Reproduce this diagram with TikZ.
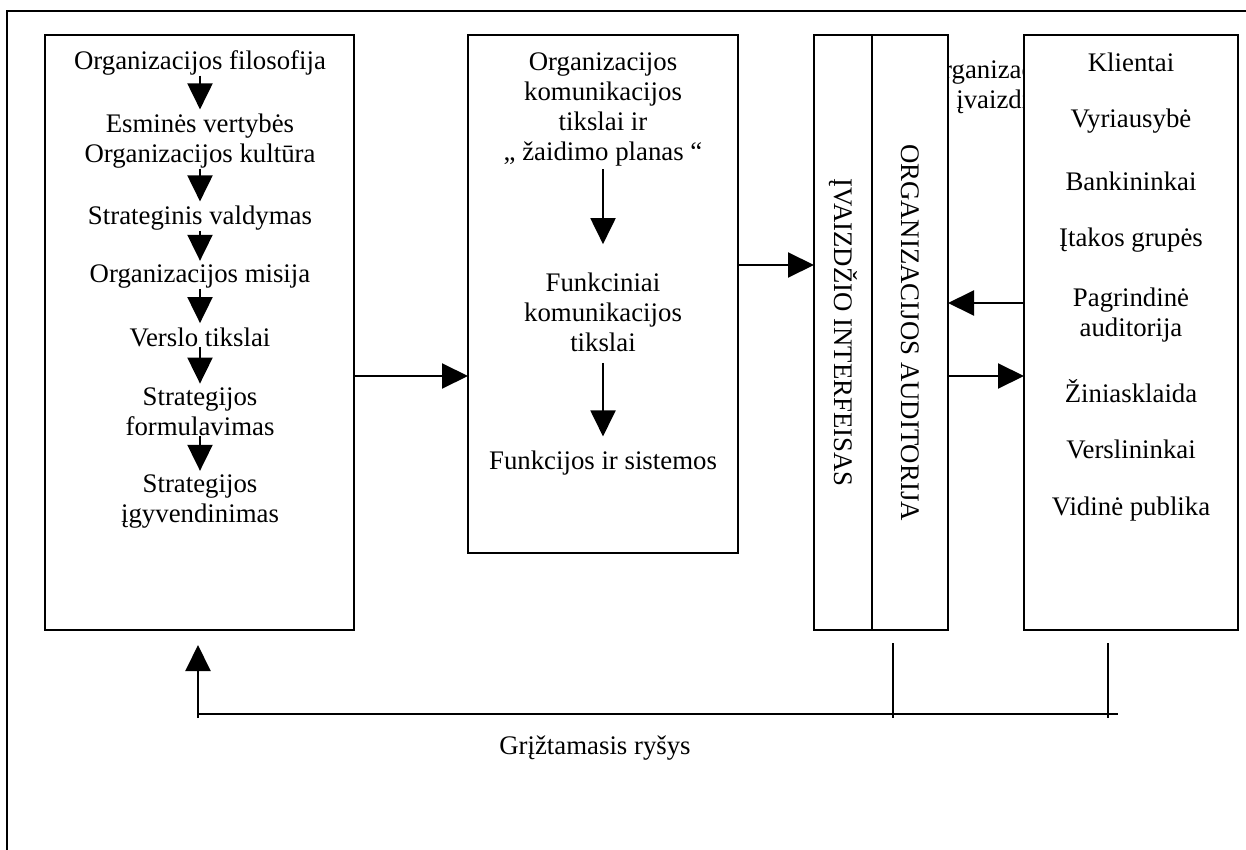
\documentclass[tikz,border=0pt]{standalone}
\usepackage{fontspec}
\setmainfont{Liberation Serif}
\usetikzlibrary{arrows.meta,positioning}

\begin{document}
\begin{tikzpicture}[
  x=0.5pt, y=0.5pt,
  font=\fontsize{13.4}{15}\selectfont,
  >={Triangle[length=13pt,width=12.5pt]},
  panel/.style 2 args={
    draw,
    fill=white,
    line width=1.2pt,
    inner sep=0pt,
    outer sep=0pt,
    minimum width=#1,
    minimum height=#2
  },
  colbox/.style={
    draw,
    fill=white,
    line width=0.8pt,
    inner sep=0pt,
    outer sep=0pt,
    minimum width=#1,
    minimum height=297.5pt
  },
  txt/.style={inner sep=0pt, align=center},
  vtxt/.style={txt, rotate=-90},
  flow/.style={->, line width=1pt},
  feedline/.style={line width=1pt}
]

  \useasboundingbox (0,0) rectangle (1246,-850);

  % Outer frame (only its left and top edges fall on the page)
  \draw[line width=1pt] (7,-880) |- (1280,-11);

  % Image label, mostly hidden behind the columns
  \node[txt] (image) at (998,-87) {Organizacijos\\įvaizdis};

  % Panels
  \node[panel={154.5pt}{297.5pt}] (strat) at (199.5,-332.5) {};
  \node[panel={135pt}{259pt}] (comm) at (603,-294) {};
  \node[colbox=29pt] (iface) at (843,-332.5) {};
  \node[colbox=38pt, right=0pt of iface] (aud) {};
  \node[panel={107pt}{297.5pt}] (publics) at (1131,-332.5) {};

  % Strategy chain
  \node[txt] (s1) at (200,-63) {Organizacijos filosofija};
  \node[txt] (s2) at (200,-141) {Esminės vertybės\\Organizacijos kultūra};
  \node[txt] (s3) at (200,-218) {Strateginis valdymas};
  \node[txt] (s4) at (200,-277) {Organizacijos misija};
  \node[txt] (s5) at (200,-337) {Verslo tikslai};
  \node[txt] (s6) at (200,-412) {Strategijos\\formulavimas};
  \node[txt] (s7) at (200,-502) {Strategijos\\įgyvendinimas};
  \foreach \a/\b in {s1/s2, s2/s3, s3/s4, s4/s5, s5/s6, s6/s7}
    \draw[flow, shorten >=2pt] (\a.south) -- (\b.north);

  % Communication goals
  \node[txt] (c1) at (603,-109) {Organizacijos\\komunikacijos\\tikslai ir\\„ žaidimo planas “};
  \node[txt] (c2) at (603,-312) {Funkciniai\\komunikacijos\\tikslai};
  \node[txt] (c3) at (603,-463) {Funkcijos ir sistemos};
  \draw[flow, shorten <=1.5pt, shorten >=14pt] (c1.south) -- (c2.north);
  \draw[flow, shorten <=5.5pt, shorten >=7pt] (c2.south) -- (c3.north);

  % Interface and audience columns
  \node[vtxt] (ifaceTxt) at (iface) {ĮVAIZDŽIO INTERFEISAS};
  \node[vtxt] (audTxt) at (aud) {ORGANIZACIJOS AUDITORIJA};

  % Publics
  \node[txt] (p1) at (1131,-62) {Klientai};
  \node[txt] (p2) at (1131,-121) {Vyriausybė};
  \node[txt] (p3) at (1131,-181) {Bankininkai};
  \node[txt] (p4) at (1131,-240) {Įtakos grupės};
  \node[txt] (p5) at (1131,-315) {Pagrindinė\\auditorija};
  \node[txt] (p6) at (1131,-391) {Žiniasklaida};
  \node[txt] (p7) at (1131,-449) {Verslininkai};
  \node[txt] (p8) at (1131,-509) {Vidinė publika};

  % Links between the panels
  \coordinate (lvlA) at (0,-265);
  \coordinate (lvlB) at (0,-303);
  \coordinate (lvlC) at (0,-376);
  \draw[flow] (strat.east |- lvlC) -- (comm.west |- lvlC);
  \draw[flow] (comm.east |- lvlA) -- (iface.west |- lvlA);
  \draw[flow] (publics.west |- lvlB) -- (aud.east |- lvlB);
  \draw[flow] (aud.east |- lvlC) -- (publics.west |- lvlC);

  % Feedback loop
  \coordinate (fbTip) at (198,-645);
  \coordinate (fbBase) at (198,-714);
  \coordinate (fbEnd) at (1118,-714);
  \coordinate (fbA) at (893,-643);
  \coordinate (fbB) at (1108,-643);
  \draw[feedline] (fbBase) -- (fbEnd);
  \draw[feedline] (fbA) -- ([yshift=-2pt]fbA |- fbEnd);
  \draw[feedline] (fbB) -- ([yshift=-2pt]fbB |- fbEnd);
  \draw[flow] ([yshift=-2pt]fbBase) -- (fbTip);
  \node[txt] (fb) at (595,-748) {Grįžtamasis ryšys};

\end{tikzpicture}
\end{document}
